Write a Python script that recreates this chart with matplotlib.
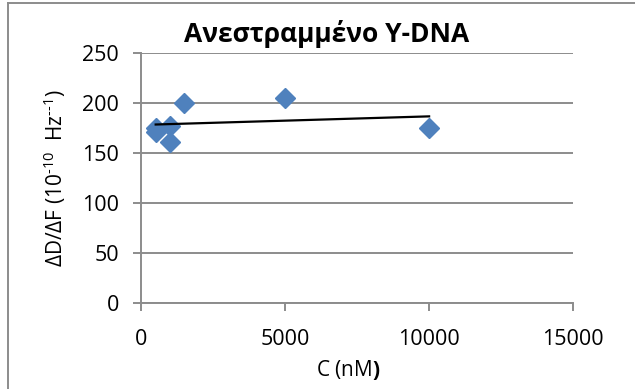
import numpy as np
import matplotlib.pyplot as plt
from matplotlib.lines import Line2D

# concentration (nM) and dissipation/frequency ratio
conc = [500, 500, 1000, 1000, 1500, 5000, 10000]
ratio = [175, 171, 177, 161, 200, 205, 175]

x_ticks = [0, 5000, 10000, 15000]
y_ticks = [0, 50, 100, 150, 200, 250]

plt.rcParams['font.family'] = ['Open Sans', 'DejaVu Sans']
plt.rcParams['mathtext.fontset'] = 'custom'
plt.rcParams['mathtext.rm'] = 'Open Sans'
plt.rcParams['mathtext.it'] = 'Open Sans'
plt.rcParams['mathtext.bf'] = 'Open Sans:bold'

grid_col = '#8c8c8c'

fig = plt.figure(figsize=(6.35, 3.89), dpi=100)
ax = fig.add_axes([0.2225, 0.2219, 0.6799, 0.6411])

ax.plot(conc, ratio, linestyle='none', marker='D', markersize=10.5,
        color='#4F81BD', zorder=3)

# linear trendline over the measured range
slope, icpt = np.polyfit(conc, ratio, 1)
tx = np.array([min(conc), max(conc)])
ax.plot(tx, slope * tx + icpt, color='black', linewidth=1.6, zorder=4)

ax.set_xlim(0, 15000)
ax.set_ylim(0, 250)
ax.set_xticks(x_ticks)
ax.set_yticks(y_ticks)
ax.grid(axis='y', color=grid_col, linewidth=1.4)
ax.set_axisbelow(True)
for s in ['top', 'right']:
    ax.spines[s].set_visible(False)
for s in ['left', 'bottom']:
    ax.spines[s].set_color(grid_col)
    ax.spines[s].set_linewidth(1.4)
ax.tick_params(axis='both', colors=grid_col, labelcolor='black',
               labelsize=15.5, length=6, width=1.4)
ax.tick_params(axis='x', pad=13)
ax.tick_params(axis='y', pad=10)

ax.set_title('Ανεστραμμένο Y-DNA', fontsize=19, fontweight='bold', pad=8,
             x=0.43)
ax.set_xlabel(r'C (nM$\mathbf{)}$', fontsize=15, labelpad=6, x=0.48)
ax.set_ylabel(r'ΔD/ΔF (10$^{\text{-10}}$  Hz$^{\text{--1}}$)', fontsize=15,
              labelpad=10)

# chart area border (left and top edges)
bx, by = 8.3 / 635, 1 - 3.3 / 389
fig.add_artist(Line2D([bx, bx], [0, by], color=grid_col, linewidth=1.4))
fig.add_artist(Line2D([bx, 1], [by, by], color=grid_col, linewidth=1.4))

fig.savefig('out.png', dpi=100)
